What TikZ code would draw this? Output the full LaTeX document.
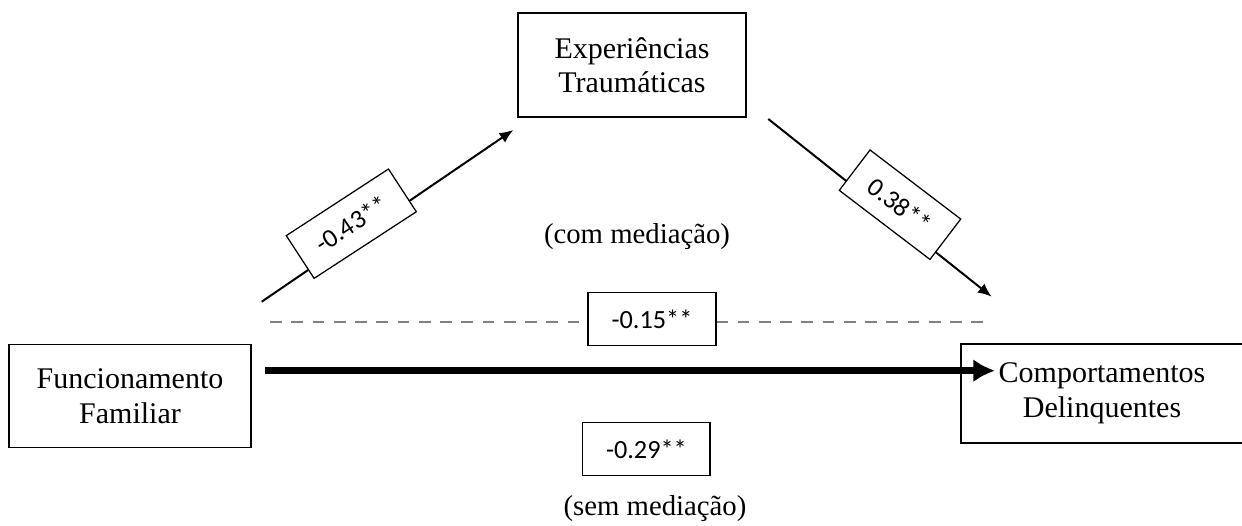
\documentclass[tikz,border=0pt]{standalone}
\usepackage{fontspec}
\setmainfont{Liberation Serif}
\newfontfamily\coeffont{Carlito}
\usepackage{tikz}
\usetikzlibrary{arrows.meta, positioning}
\definecolor{DashGray}{rgb}{0.5,0.5,0.5}

\begin{document}
\begin{tikzpicture}[x=0.4pt, y=-0.4pt,
    varbox/.style={draw, line width=0.5pt, align=center, inner sep=0pt,
      font=\fontsize{12}{13.8}\selectfont},
    coefbox/.style={draw, fill=white, line width=0.5pt, inner sep=0pt,
      font=\coeffont\fontsize{10.5}{12}\selectfont},
    thinarrow/.style={line width=0.8pt, -{Latex[length=5.5pt, width=4.6pt]}},
    thickarrow/.style={line width=2.8pt, -{Latex[length=8.7pt, width=9.3pt]}},
    dashline/.style={line width=0.8pt, DashGray, dash pattern=on 4.7pt off 3.8pt}]
    \useasboundingbox (0,0) rectangle (1242,526);
    % variables
    \node [varbox, minimum width=91.2pt, minimum height=41.6pt] (trauma) at (632,65) {Experiências\\Traumáticas};
    \node [varbox, minimum width=96.7pt, minimum height=41pt] (famil) at (130,396) {Funcionamento\\Familiar};
    \node [varbox, minimum width=112.8pt, minimum height=39.6pt] (delinq) at (1102,393.5) {Comportamentos\\Delinquentes};
    % arrow ends
    \coordinate (famTop) at (261.7,301.7);
    \coordinate (traumIn) at (513.3,130);
    \coordinate (traumOut) at (768.3,119);
    \coordinate (delinqIn) at (991.7,296.7);
    \coordinate (dashL) at (270,321.7);
    \coordinate (dashR) at (989,321.7);
    \coordinate (directL) at (265,370.7);
    \coordinate (directR) at (995,370.7);
    \draw [thinarrow] (famTop) -- (traumIn);
    \draw [thinarrow] (traumOut) -- (delinqIn);
    \draw [dashline] (dashL) -- (dashR);
    \draw [thickarrow] (directL) -- (directR);
    % coefficients
    \node [coefbox, minimum width=48.8pt, minimum height=20.4pt, rotate=33.1] (coefA) at (351.3,223.7) {-0.43**};
    \node [coefbox, minimum width=45.6pt, minimum height=20.3pt, rotate=-37.3] (coefB) at (900,204.7) {0.38**};
    \node [coefbox, minimum width=51.2pt, minimum height=21.3pt] (coefC) at (652,319) {-0.15**};
    \node [coefbox, minimum width=50.9pt, minimum height=20.9pt] (coefD) at (646.4,449) {-0.29**};
    \node [font=\fontsize{11.5}{13}\selectfont] (withMed) at (637,237) {(com mediação)};
    \node [font=\fontsize{11.5}{13}\selectfont] (withoutMed) at (655,509) {(sem mediação)};
\end{tikzpicture}
\end{document}
